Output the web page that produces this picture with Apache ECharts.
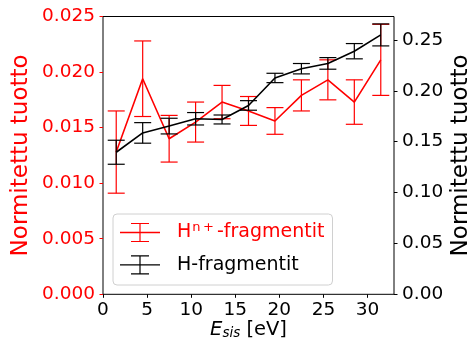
<!DOCTYPE html>
<html>
<head>
<meta charset="utf-8">
<script src="https://cdn.jsdelivr.net/npm/echarts@6/dist/echarts.min.js"></script>
<style>
  html, body { margin: 0; padding: 0; background: #fff; }
  #chart { width: 471px; height: 345px; }
</style>
</head>
<body>
<div id="chart"></div>
<script>
// Collision energy (eV)
const energies = [1.5, 4.5, 7.5, 10.5, 13.5, 16.5, 19.5, 22.5, 25.5, 28.5, 31.5];
// Normalised yield of H^n+ fragments (left axis) and its uncertainty
const ionYield = [0.0128, 0.0194, 0.0140, 0.0155, 0.0173, 0.0165, 0.0156, 0.0179, 0.0193, 0.0173, 0.0211];
const ionErr   = [0.0037, 0.0034, 0.0021, 0.0018, 0.0015, 0.0013, 0.0012, 0.0014, 0.0018, 0.0020, 0.0032];
// Normalised yield of H fragments (right axis) and its uncertainty
const neutralYield = [0.1396, 0.1586, 0.1653, 0.1725, 0.1718, 0.1856, 0.2126, 0.2217, 0.2269, 0.2389, 0.2549];
const neutralErr   = [0.0118, 0.0101, 0.0077, 0.0061, 0.0044, 0.0047, 0.0046, 0.0051, 0.0057, 0.0075, 0.0108];
// Tick positions
const xTicks = [0, 5, 10, 15, 20, 25, 30];
const leftTicks = [0, 0.005, 0.010, 0.015, 0.020, 0.025];
const rightTicks = [0, 0.05, 0.10, 0.15, 0.20, 0.25];

const ionName = 'Hⁿ⁺-fragmentit';
const neutralName = 'H-fragmentit';
const FONT = 'DejaVu Sans';

function pairs(ys) { return energies.map((x, i) => [x, ys[i]]); }
function ranges(ys, es) { return energies.map((x, i) => [x, ys[i] - es[i], ys[i] + es[i]]); }

function errorBars(color) {
  return function (params, api) {
    const x = api.value(0);
    const lo = api.coord([x, api.value(1)]);
    const hi = api.coord([x, api.value(2)]);
    const cap = 8.5;
    const style = { stroke: color, lineWidth: 1.2 };
    return {
      type: 'group',
      children: [
        { type: 'line', shape: { x1: lo[0], y1: lo[1], x2: hi[0], y2: hi[1] }, style },
        { type: 'line', shape: { x1: lo[0] - cap, y1: lo[1], x2: lo[0] + cap, y2: lo[1] }, style },
        { type: 'line', shape: { x1: hi[0] - cap, y1: hi[1], x2: hi[0] + cap, y2: hi[1] }, style }
      ]
    };
  };
}

// Legend glyph: horizontal line with a capped vertical error bar
const errIcon = 'path://M0 9.3H40V10.7H0Z M19.4 1H20.6V19H19.4Z M11 0.4H29V1.6H11Z M11 18.4H29V19.6H11Z';

const chart = echarts.init(document.getElementById('chart'), null, { renderer: 'canvas' });

chart.setOption({
  animation: false,
  backgroundColor: '#fff',
  textStyle: { fontFamily: FONT },
  grid: {
    left: 103, top: 16.5, width: 291, height: 277.8,
    outerBoundsMode: 'none', containLabel: false,
    show: true, borderColor: '#000', borderWidth: 1, backgroundColor: 'transparent'
  },
  xAxis: {
    type: 'value', min: 0, max: 33,
    axisLine: { show: false },
    splitLine: { show: false },
    axisTick: { show: true, length: 3.5, customValues: xTicks, lineStyle: { color: '#000', width: 1 } },
    axisLabel: { customValues: xTicks, color: '#000', fontSize: 18.5, fontFamily: FONT, margin: 6 },
    name: '{e|E}{s|sis}{u| [eV]}',
    nameLocation: 'middle',
    nameGap: 26,
    nameMoveOverlap: false,
    nameTextStyle: {
      rich: {
        e: { fontSize: 19.5, fontStyle: 'italic', fontFamily: FONT, color: '#000' },
        s: { fontSize: 13.5, fontStyle: 'italic', fontFamily: FONT, color: '#000', verticalAlign: 'bottom', padding: [6, 0, 0, 0] },
        u: { fontSize: 19.5, fontFamily: FONT, color: '#000' }
      }
    }
  },
  yAxis: [
    {
      type: 'value', min: 0, max: 0.025, interval: 0.005, position: 'left',
      axisLine: { show: false },
      splitLine: { show: false },
      axisTick: { show: true, length: 3.5, customValues: leftTicks, lineStyle: { color: '#ff0000', width: 1 } },
      axisLabel: {
        customValues: leftTicks, color: '#ff0000', fontSize: 18.5, fontFamily: FONT, margin: 8,
        formatter: v => v.toFixed(3)
      },
      name: 'Normitettu tuotto',
      nameLocation: 'middle',
      nameRotate: 90,
      nameGap: 70,
      nameMoveOverlap: false,
      nameTextStyle: { color: '#ff0000', fontSize: 23, fontFamily: FONT }
    },
    {
      type: 'value', min: 0, max: 0.273, position: 'right',
      axisLine: { show: false },
      splitLine: { show: false },
      axisTick: { show: true, length: 3.5, customValues: rightTicks, lineStyle: { color: '#000', width: 1 } },
      axisLabel: {
        customValues: rightTicks, color: '#000', fontSize: 18.5, fontFamily: FONT, margin: 8,
        formatter: v => v.toFixed(2)
      },
      name: 'Normitettu tuotto',
      nameLocation: 'middle',
      nameRotate: 90,
      nameGap: 56,
      nameMoveOverlap: false,
      nameTextStyle: { color: '#000', fontSize: 23, fontFamily: FONT }
    }
  ],
  legend: {
    orient: 'vertical',
    left: 113, top: 214,
    padding: [7.5, 8, 10.5, 7],
    itemWidth: 40, itemHeight: 20, itemGap: 11.8,
    backgroundColor: 'rgba(255,255,255,0.8)',
    borderColor: '#d0d0d0', borderWidth: 1, borderRadius: 4,
    selectedMode: false,
    data: [
      { name: ionName, icon: errIcon },
      { name: neutralName, icon: errIcon }
    ],
    formatter: function (name) {
      return name === ionName
        ? '{rh|H}{rs|n\u2009+}{rh|-fragmentit}'
        : '{bh|H-fragmentit}';
    },
    textStyle: {
      padding: [0, 0, 0, 12],
      rich: {
        rh: { color: '#ff0000', fontSize: 19, fontFamily: FONT, lineHeight: 20 },
        rs: { color: '#ff0000', fontSize: 13, fontFamily: FONT, lineHeight: 20, padding: [0, 3, 9, 1] },
        bh: { color: '#000', fontSize: 19, fontFamily: FONT, lineHeight: 20 }
      }
    }
  },
  series: [
    {
      type: 'custom', yAxisIndex: 0, z: 2, silent: true,
      renderItem: errorBars('#ff0000'),
      encode: { x: 0, y: [1, 2] },
      data: ranges(ionYield, ionErr)
    },
    {
      name: ionName, type: 'line', yAxisIndex: 0, z: 3,
      color: '#ff0000', symbol: 'none',
      lineStyle: { color: '#ff0000', width: 1.6 },
      data: pairs(ionYield)
    },
    {
      type: 'custom', yAxisIndex: 1, z: 4, silent: true,
      renderItem: errorBars('#000'),
      encode: { x: 0, y: [1, 2] },
      data: ranges(neutralYield, neutralErr)
    },
    {
      name: neutralName, type: 'line', yAxisIndex: 1, z: 5,
      color: '#000', symbol: 'none',
      lineStyle: { color: '#000', width: 1.6 },
      data: pairs(neutralYield)
    }
  ]
});
</script>
</body>
</html>
